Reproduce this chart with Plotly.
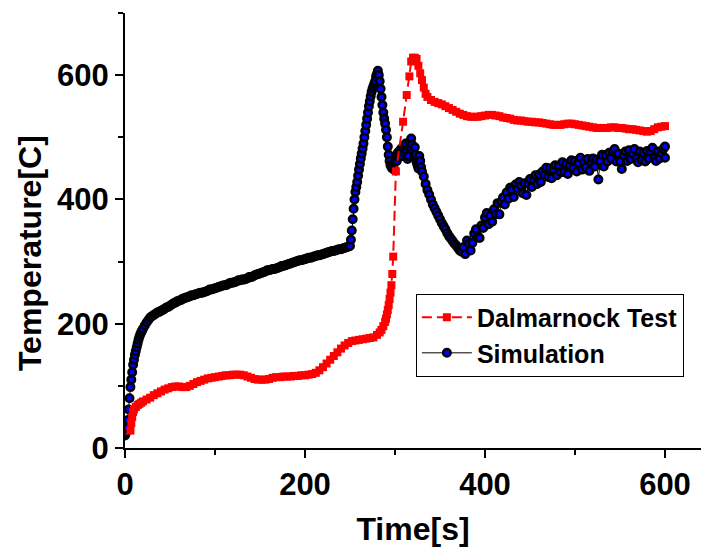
import plotly.graph_objects as go

# ---- Data ----
test_t = [6, 7, 8, 9, 10, 12, 14, 16, 18, 20, 24, 28, 32, 36, 40, 44, 48, 52, 56, 60, 64, 68, 72, 76,
          80, 84, 88, 92, 96, 100, 104, 108, 112, 116, 120, 124, 128, 132, 136, 140, 144, 148, 152,
          156, 160, 164, 168, 172, 176, 180, 184, 188, 192, 196, 200, 204, 208, 212, 216, 220, 224,
          228, 232, 236, 240, 244, 248, 252, 256, 260, 264, 268, 272, 276, 280, 283, 285, 287, 289,
          290, 291, 292, 293, 294, 295, 296, 297, 298, 301, 309, 313, 316, 318, 320, 322, 324, 326,
          328, 330, 332, 334, 336, 340, 344, 348, 352, 356, 360, 364, 368, 372, 376, 380, 384, 388,
          392, 396, 400, 404, 408, 412, 416, 420, 424, 428, 432, 436, 440, 444, 448, 452, 456, 460,
          464, 468, 472, 476, 480, 484, 488, 492, 496, 500, 504, 508, 512, 516, 520, 524, 528, 532,
          536, 540, 544, 548, 552, 556, 560, 564, 568, 572, 576, 580, 584, 588, 592, 596, 600]
test_T = [28, 40, 50, 58, 62, 66, 69, 71, 73, 75, 78, 81, 85, 88, 91, 94, 96, 98, 99, 99, 98, 98, 100, 103,
          106, 108, 110, 112, 113, 114, 115, 116, 117, 117, 118, 118, 118, 117, 115, 113, 111, 110, 110,
          110, 111, 113, 114, 114, 115, 115, 115, 116, 116, 117, 117, 118, 119, 121, 125, 130, 136,
          142, 148, 154, 160, 165, 169, 172, 173, 174, 175, 176, 177, 178, 182, 186, 190, 196, 203,
          208, 215, 222, 230, 240, 250, 262, 280, 308, 445, 525, 568, 598, 622, 628, 628, 626, 615,
          603, 592, 580, 570, 565, 560, 557, 555, 553, 550, 547, 544, 541, 538, 536, 534, 533, 533,
          533, 534, 535, 536, 536, 535, 534, 532, 531, 530, 528, 527, 527, 526, 525, 525, 524, 524,
          523, 522, 521, 520, 520, 520, 521, 522, 522, 521, 520, 519, 518, 517, 516, 515, 515, 515,
          515, 516, 516, 515, 515, 514, 513, 513, 512, 511, 510, 509, 510, 513, 516, 517, 518]

sim_t = [0, 1, 2, 3, 4, 5, 6, 7, 8, 9, 10, 11, 12, 13, 14, 15, 16, 17, 18, 19, 20,
         22, 24, 26, 28, 30, 32, 34, 36, 38, 40, 42, 44, 46, 48, 50, 52, 54, 56, 58, 60,
         62, 64, 66, 68, 70, 72, 74, 76, 78, 80, 82, 84, 86, 88, 90, 92, 94, 96, 98, 100,
         102, 104, 106, 108, 110, 112, 114, 116, 118, 120, 122, 124, 126, 128, 130, 132, 134, 136, 138, 140,
         142, 144, 146, 148, 150, 152, 154, 156, 158, 160, 162, 164, 166, 168, 170, 172, 174, 176, 178, 180,
         182, 184, 186, 188, 190, 192, 194, 196, 198, 200, 202, 204, 206, 208, 210, 212, 214, 216, 218, 220,
         222, 224, 226, 228, 230, 232, 234, 236, 238, 240, 242, 244, 246, 248, 250,
         251, 252, 253, 254, 255, 256, 257, 258, 259, 260, 261, 262, 263, 264, 265, 266, 267, 268,
         269, 270, 271, 272, 273, 274, 275, 276, 277, 278, 279, 280, 281, 282, 283, 284, 285, 286,
         287, 288, 289, 290, 291, 292, 293, 294, 295, 296, 297, 298, 299, 300, 301, 302, 303, 304,
         305, 306, 307, 308, 309, 310, 311, 312, 313, 314, 315, 316, 317, 318, 319, 320, 321, 322,
         323, 324, 325, 326, 327, 328, 329, 330, 332, 334, 336, 338, 340, 342, 344, 346, 348, 350,
         352, 354, 356, 358, 360, 362, 364, 366, 368, 370, 372, 374,
         376, 378, 380, 382, 384, 386, 388, 390, 392, 394, 396, 398, 400,
         402, 404, 406, 408, 410, 412, 414, 416, 418, 420,
         422, 424, 426, 428, 430, 432, 434, 436, 438, 440,
         442, 444, 446, 448, 450, 452, 454, 456, 458, 460,
         462, 464, 466, 468, 470, 472, 474, 476, 478, 480,
         482, 484, 486, 488, 490, 492, 494, 496, 498, 500,
         502, 504, 506, 508, 510, 512, 514, 516, 518, 520,
         522, 524, 526, 528, 530, 532, 534, 536, 538, 540,
         542, 544, 546, 548, 550, 552, 554, 556, 558, 560,
         562, 564, 566, 568, 570, 572, 574, 576, 578, 580,
         582, 584, 586, 588, 590, 592, 594, 596, 598, 600, 600]
sim_T = [20, 24, 32, 45, 62, 80, 98, 110, 122, 134, 142, 150, 156, 162, 168, 174, 179, 183, 186, 189, 192,
         197, 202, 206, 210, 212, 214, 216, 218, 219, 221, 222, 224, 226, 227, 229, 231, 233, 234, 236, 237,
         238, 240, 241, 242, 243, 244, 246, 246, 247, 248, 249, 250, 250, 251, 252, 253, 255, 255, 256, 257,
         258, 259, 260, 261, 262, 262, 263, 265, 266, 266, 267, 268, 270, 270, 271, 271, 272, 273, 275, 275,
         276, 278, 279, 280, 281, 282, 283, 284, 286, 286, 287, 288, 288, 289, 290, 291, 293, 293, 294, 295,
         296, 297, 298, 299, 300, 301, 302, 302, 303, 304, 305, 306, 306, 307, 308, 309, 310, 310, 311, 312,
         313, 314, 315, 316, 317, 317, 318, 319, 320, 320, 321, 322, 323, 324, 325,
         335, 350, 368, 385, 400, 412, 420, 428, 438, 448, 457, 466, 474, 482, 490, 500, 510, 520,
         530, 540, 550, 558, 566, 573, 578, 582, 586, 590, 598, 602, 607, 600, 590, 578, 565, 552,
         540, 530, 522, 512, 500, 485, 472, 462, 455, 452, 450, 455, 448, 460, 470, 462, 475, 468,
         478, 472, 482, 470, 476, 485, 480, 490, 478, 465, 470, 492, 482, 498, 488, 478, 470, 484,
         472, 460, 455, 450, 470, 462, 452, 445, 437, 425, 415, 408, 400, 392, 386, 380, 374, 368,
         362, 357, 352, 346, 341, 337, 333, 329, 326, 322, 318, 316,
         323, 312, 334, 329, 318, 330, 345, 352, 341, 338, 358, 354, 371,
         378, 360, 374, 364, 384, 376, 394, 376, 396, 403,
         392, 411, 401, 419, 415, 404, 424, 417, 428, 422,
         410, 426, 407, 425, 433, 420, 431, 439, 425, 440,
         428, 445, 439, 451, 436, 450, 434, 448, 455, 439,
         454, 444, 460, 444, 457, 441, 455, 463, 450, 462,
         445, 459, 467, 448, 460, 452, 465, 446, 460, 466,
         453, 464, 432, 462, 472, 453, 471, 461, 475, 466,
         477, 481, 461, 474, 461, 449, 471, 477, 462, 479,
         465, 474, 481, 466, 460, 477, 464, 475, 461, 478,
         466, 477, 483, 467, 462, 477, 466, 475, 481, 485, 467]

x_ticks = [0, 200, 400, 600]
y_ticks = [0, 200, 400, 600]

FONT = "Liberation Sans, Arial, sans-serif"

fig = go.Figure()

fig.add_trace(go.Scatter(
    x=sim_t, y=sim_T, name="Simulation", mode="lines+markers",
    line=dict(color="black", width=1),
    marker=dict(symbol="circle", size=7.5, color="#0000FF",
                line=dict(color="black", width=2.5)),
))

fig.add_trace(go.Scatter(
    x=test_t, y=test_T, name="Dalmarnock Test", mode="lines+markers",
    line=dict(color="#FF0000", width=2, dash="10px,5px"),
    marker=dict(symbol="square", size=8, color="#FF0000",
                line=dict(color="#FF0000", width=0)),
))

axis_common = dict(
    showgrid=False, zeroline=False, showline=True, linecolor="black", linewidth=2,
    ticks="outside", ticklen=8, tickwidth=2, tickcolor="black",
    tickfont=dict(family=FONT, size=31, color="black", weight="bold"),
    minor=dict(ticks="outside", ticklen=5, tickwidth=2, tickcolor="black", dtick=100, tick0=0),
    mirror=False,
)

fig.update_xaxes(range=[0, 640], tickvals=x_ticks, ticktext=[str(v) for v in x_ticks],
                 title=dict(text="Time[s]", font=dict(family=FONT, size=32, color="black", weight="bold"),
                            standoff=16),
                 **axis_common)
fig.update_yaxes(range=[0, 700], tickvals=y_ticks, ticktext=[str(v) for v in y_ticks],
                 **axis_common)

fig.add_annotation(text="Temperature[C]", xref="paper", yref="paper",
                   x=-0.165, y=0.448, xanchor="center", yanchor="middle",
                   textangle=-90, showarrow=False,
                   font=dict(family=FONT, size=32, color="black", weight="bold"))

fig.update_layout(
    width=703, height=550,
    margin=dict(l=125, r=2, t=13, b=102),
    plot_bgcolor="white", paper_bgcolor="white",
    legend=dict(x=0.505, y=0.355, xanchor="left", yanchor="top",
                bordercolor="black", borderwidth=1, bgcolor="white",
                traceorder="reversed", itemwidth=50,
                font=dict(family=FONT, size=25, color="black", weight="bold")),
)

fig.write_html("out.html")
